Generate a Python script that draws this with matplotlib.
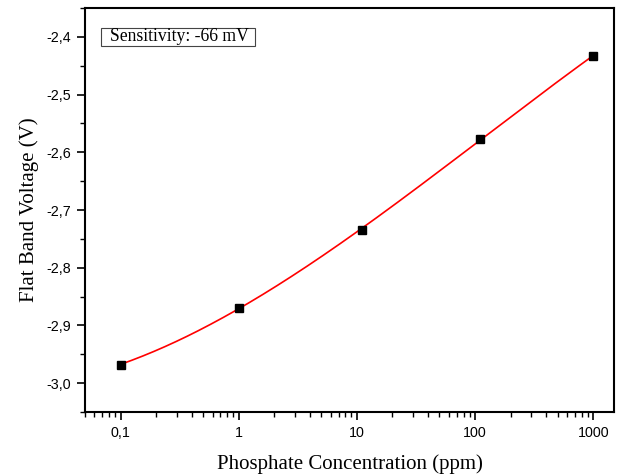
import numpy as np
import matplotlib
matplotlib.use("Agg")
import matplotlib.pyplot as plt
from matplotlib.patches import Rectangle
from matplotlib.ticker import FixedLocator, FuncFormatter, LogLocator, NullFormatter, MultipleLocator

# Data
concentration = [0.1, 1, 11, 110, 1000]
flat_band_v = [-2.968, -2.869, -2.735, -2.577, -2.433]
x_ticks = [0.1, 1, 10, 100, 1000]
x_tick_labels = ["0,1", "1", "10", "100", "1000"]
y_ticks = [-3.0, -2.9, -2.8, -2.7, -2.6, -2.5, -2.4]
annotation = "Sensitivity: -66 mV"

fig = plt.figure(figsize=(6.17, 4.74), dpi=100)
ax = fig.add_axes([85/617, 1-412/474, (614-85)/617, (412-8)/474])

# smooth fit curve in log space
lx = np.log10(concentration)
coef = np.polyfit(lx, flat_band_v, 3)
xs = np.linspace(lx.min(), lx.max(), 300)
ax.plot(10**xs, np.polyval(coef, xs), color="#ff0000", lw=1.2, zorder=2)
ax.plot(concentration, flat_band_v, "s", color="black", ms=6, zorder=3)

ax.set_xscale("log")
ax.set_xlim(0.05, 1500)
ax.set_ylim(-3.05, -2.35)

ax.xaxis.set_major_locator(FixedLocator(x_ticks))
ax.set_xticklabels(x_tick_labels)
ax.xaxis.set_minor_locator(LogLocator(base=10, subs=np.arange(2, 10), numticks=20))
ax.xaxis.set_minor_formatter(NullFormatter())
ax.yaxis.set_major_locator(FixedLocator(y_ticks))
ax.yaxis.set_minor_locator(MultipleLocator(0.05))
ax.yaxis.set_major_formatter(FuncFormatter(lambda v, p: f"{v:.1f}".replace(".", ",")))

for lab in ax.get_xticklabels() + ax.get_yticklabels():
    lab.set_fontfamily("Liberation Sans")
    lab.set_fontsize(10.3)

ax.tick_params(which="major", direction="out", length=6, width=1.2, pad=4)
ax.tick_params(which="minor", direction="out", length=3.5, width=1.0)
ax.tick_params(top=False, right=False)
for s in ax.spines.values():
    s.set_linewidth(1.5)

ax.set_xlabel("Phosphate Concentration (ppm)", fontfamily="Liberation Serif", fontsize=15, labelpad=10)
ax.set_ylabel("Flat Band Voltage (V)", fontfamily="Liberation Serif", fontsize=15, labelpad=5)

ax.add_patch(Rectangle((0.0302, 0.906), 0.2912, 0.0445, transform=ax.transAxes,
                       fc="white", ec="#444444", lw=0.8, zorder=4))
ax.text(0.047, 0.9285, annotation, transform=ax.transAxes, fontfamily="Liberation Serif",
        fontsize=12.7, va="center", ha="left", zorder=5)

fig.savefig("out.png", dpi=100)
